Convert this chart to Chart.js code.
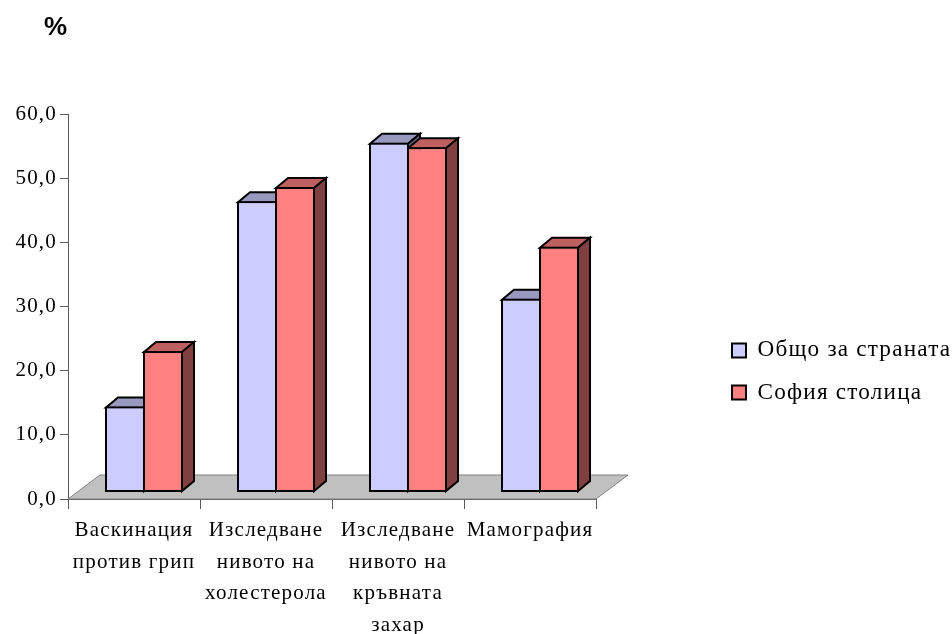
<!DOCTYPE html>
<html>
<head>
<meta charset="utf-8">
<style>
  html, body { margin: 0; padding: 0; background: #fff; }
  canvas { display: block; }
</style>
<script src="https://cdn.jsdelivr.net/npm/chart.js@4/dist/chart.umd.js"></script>
</head>
<body>
<canvas id="chart" width="952" height="634"></canvas>
<script>
const categories = [
    ['Васкинация', 'против грип'],
    ['Изследване', 'нивото на', 'холестерола'],
    ['Изследване', 'нивото на', 'кръвната', 'захар'],
    ['Мамография']
];
const seriesNames = ['Общо за страната', 'София столица'];
const countryValues = [13.4, 45.4, 54.5, 30.2];
const sofiaValues = [22.05, 47.6, 53.8, 38.3];

const frontColors = ['#CCCCFF', '#FF8080'];
const topColors = ['#9999BF', '#BF6060'];
const sideColors = ['#666680', '#804040'];

const serif = '"Liberation Serif", "Times New Roman", serif';

// fake 3D: floor depth, bar shift inside the floor, bar depth
const floorDepth = { x: 32, y: -24 };
const barShift = { x: 10, y: -6.5 };
const barDepth = { x: 12, y: -10 };

function polygon(ctx, pts, fill, stroke, lineWidth) {
    ctx.beginPath();
    pts.forEach((p, i) => i ? ctx.lineTo(p[0], p[1]) : ctx.moveTo(p[0], p[1]));
    ctx.closePath();
    ctx.fillStyle = fill;
    ctx.fill();
    ctx.strokeStyle = stroke;
    ctx.lineWidth = lineWidth;
    ctx.stroke();
}

const spacedText = {
    id: 'spacedText',
    beforeUpdate(chart) { chart.ctx.letterSpacing = '1.2px'; },
    beforeDraw(chart) { chart.ctx.letterSpacing = '1.2px'; }
};

// title and legend sit outside the spots the layout gives them
const placeBoxes = {
    id: 'placeBoxes',
    afterLayout(chart) {
        chart.titleBlock.left = 44;
        const legend = chart.legend;
        legend.left = 713;
        legend.right = 952;
        legend.top += 54.5;
        legend.bottom += 54.5;
    }
};

const floor3d = {
    id: 'floor3d',
    beforeDatasetsDraw(chart) {
        const { ctx, scales: { x, y } } = chart;
        const zero = y.getPixelForValue(0);
        polygon(ctx, [
            [x.left, zero],
            [x.left + floorDepth.x, zero + floorDepth.y],
            [x.right + floorDepth.x, zero + floorDepth.y],
            [x.right, zero]
        ], '#C0C0C0', '#808080', 1);

        // top and side faces first, the library draws the second series before the first
        ctx.save();
        ctx.translate(barShift.x, barShift.y);
        chart.data.datasets.forEach((ds, i) => {
            chart.getDatasetMeta(i).data.forEach(bar => {
                // 1px in from the bar edge, that is the middle of its border
                const left = bar.x - bar.width / 2 + 1;
                const right = bar.x + bar.width / 2 - 1;
                const top = bar.y + 1;
                const base = bar.base - 1;
                polygon(ctx, [
                    [left, top],
                    [left + barDepth.x, top + barDepth.y],
                    [right + barDepth.x, top + barDepth.y],
                    [right, top]
                ], topColors[i], '#000', 2);
                polygon(ctx, [
                    [right, top],
                    [right + barDepth.x, top + barDepth.y],
                    [right + barDepth.x, base + barDepth.y],
                    [right, base]
                ], sideColors[i], '#000', 2);
            });
        });
        ctx.restore();
    },
    beforeDatasetDraw(chart) {
        chart.ctx.save();
        chart.ctx.translate(barShift.x, barShift.y);
    },
    afterDatasetDraw(chart) {
        chart.ctx.restore();
    }
};

new Chart(document.getElementById('chart'), {
    type: 'bar',
    data: {
        labels: categories,
        datasets: [
            { label: seriesNames[0], data: countryValues, backgroundColor: frontColors[0] },
            { label: seriesNames[1], data: sofiaValues, backgroundColor: frontColors[1] }
        ].map(d => ({ ...d, borderColor: '#000', borderWidth: 2, borderSkipped: false, clip: false }))
    },
    options: {
        responsive: false,
        animation: false,
        barPercentage: 1.0526, // bars share their middle border
        categoryPercentage: 0.5758,
        layout: { padding: { right: 156 } },
        plugins: {
            tooltip: { enabled: false },
            title: {
                display: true,
                text: '%',
                align: 'start',
                color: '#000',
                font: { family: '"Liberation Sans", Arial, sans-serif', size: 26, weight: 'bold' },
                padding: { top: 12, bottom: 70.8 }
            },
            legend: {
                position: 'right',
                maxWidth: 200,
                labels: {
                    color: '#000',
                    font: { family: serif, size: 23.2 },
                    boxWidth: 14,
                    boxHeight: 14,
                    padding: 19
                }
            }
        },
        scales: {
            x: {
                grid: { offset: true, drawOnChartArea: false, tickLength: 10, color: '#595959' },
                border: { color: '#595959', width: 1 },
                ticks: {
                    color: '#000',
                    font: { family: serif, size: 21, lineHeight: 1.5 },
                    maxRotation: 0,
                    autoSkip: false,
                    padding: 6
                },
                afterFit(s) { s.height = 135; s.paddingLeft = 0; s.paddingRight = 0; }
            },
            y: {
                min: 0,
                max: 60,
                grid: { drawOnChartArea: false, tickLength: 8, color: '#595959' },
                border: { color: '#595959', width: 1 },
                ticks: {
                    stepSize: 10,
                    color: '#000',
                    font: { family: serif, size: 21 },
                    padding: 3,
                    callback: v => v.toFixed(1).replace('.', ',')
                },
                afterFit(s) { s.width = 68; s.paddingTop = 0; s.paddingBottom = 0; }
            }
        }
    },
    plugins: [spacedText, placeBoxes, floor3d]
});
</script>
</body>
</html>
